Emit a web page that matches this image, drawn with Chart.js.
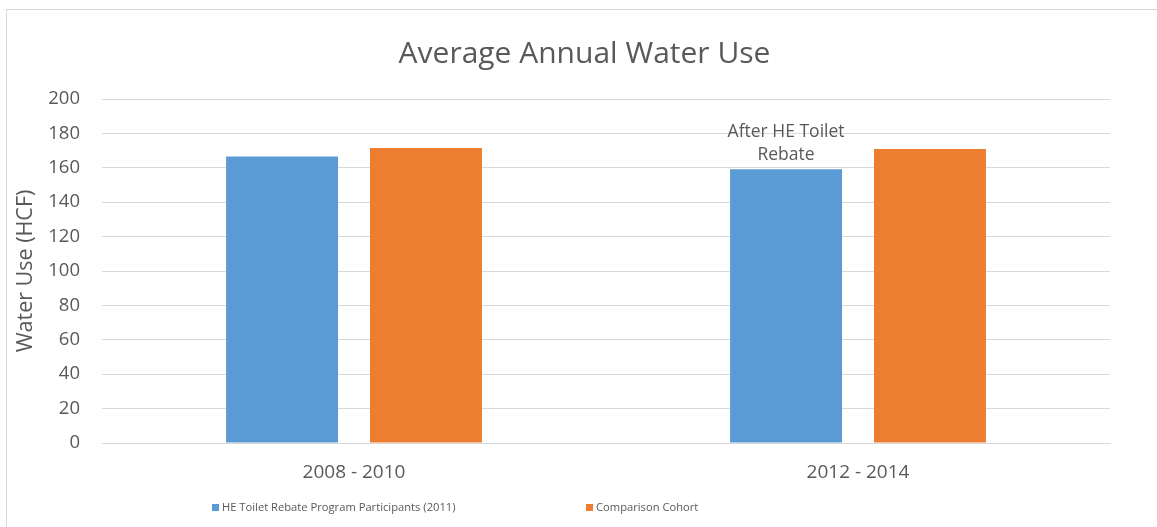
<!DOCTYPE html>
<html>
<head>
<meta charset="utf-8">
<script src="https://cdn.jsdelivr.net/npm/chart.js@4"></script>
<style>
  html, body { margin: 0; padding: 0; background: #fff; }
  #wrap { position: relative; width: 1157px; height: 527px; overflow: hidden; background: #fff; }
  #frame { position: absolute; left: 6px; top: 9px; width: 1300px; height: 700px; border-top: 1px solid #d9d9d9; border-left: 1px solid #d9d9d9; pointer-events: none; }
  canvas { position: absolute; left: 0; top: 0; }
  .leg { position: absolute; top: 499px; font-family: 'Open Sans', sans-serif; font-size: 11.2px; color: #595959; white-space: nowrap; line-height: 16px; }
  .leg span.box { display: inline-block; width: 7px; height: 7px; margin-right: 3px; vertical-align: 0px; }
</style>
</head>
<body>
<div id="wrap">
  <canvas id="c" width="1157" height="527"></canvas>
  <div id="frame"></div>
  <div class="leg" id="leg0" style="left:212px"></div>
  <div class="leg" id="leg1" style="left:586px"></div>
</div>
<script>
const chartTitle = 'Average Annual Water Use';
const yAxisTitle = 'Water Use (HCF)';
const categories = ['2008 - 2010', '2012 - 2014'];
const seriesNames = ['HE Toilet Rebate Program Participants (2011)', 'Comparison Cohort'];
const participants = [166.6, 159.2];
const cohort = [171.5, 170.9];
const seriesColors = ['#5b9bd5', '#ed7d31'];
const participantNotes = [[], ['After HE Toilet', 'Rebate']];
const yMin = 0, yMax = 200, yStep = 20;

Chart.defaults.font.family = "'Open Sans', sans-serif";
Chart.defaults.color = '#595959';

const noteLabels = {
  id: 'noteLabels',
  afterDatasetsDraw(chart) {
    const meta = chart.getDatasetMeta(0);
    const ctx = chart.ctx;
    ctx.save();
    ctx.font = "17.5px 'Open Sans', sans-serif";
    ctx.fillStyle = '#595959';
    ctx.textAlign = 'center';
    ctx.textBaseline = 'alphabetic';
    participantNotes.forEach((lines, i) => {
      if (!lines.length) return;
      const el = meta.data[i];
      const lh = 23;
      lines.forEach((t, k) => {
        const y = el.y - 9 - (lines.length - 1 - k) * lh;
        ctx.fillText(t, el.x, y);
      });
    });
    ctx.restore();
  }
};

const chart = new Chart(document.getElementById('c'), {
  type: 'bar',
  data: {
    labels: categories,
    datasets: [
      { label: seriesNames[0], data: participants, backgroundColor: seriesColors[0], categoryPercentage: 0.571, barPercentage: 0.778 },
      { label: seriesNames[1], data: cohort, backgroundColor: seriesColors[1], categoryPercentage: 0.571, barPercentage: 0.778 }
    ]
  },
  options: {
    responsive: false,
    animation: false,
    layout: { padding: { left: 12, right: 0, top: 0, bottom: 0 } },
    plugins: {
      legend: { display: false },
      tooltip: { enabled: false },
      title: {
        display: true,
        text: chartTitle,
        color: '#595959',
        font: { size: 30, weight: 'normal' },
        padding: { top: 36, bottom: 27 }
      }
    },
    scales: {
      x: {
        grid: { display: false, drawTicks: false },
        border: { display: true, color: '#d9d9d9' },
        ticks: { color: '#595959', font: { size: 19 }, padding: 18 },
        afterFit(s) { s.height = 84; }
      },
      y: {
        min: yMin, max: yMax,
        grid: { color: '#d9d9d9', drawTicks: false },
        border: { display: false },
        ticks: { stepSize: yStep, color: '#595959', font: { size: 18.5 }, padding: 22 },
        title: { display: true, text: yAxisTitle, color: '#595959', font: { size: 21.5, lineHeight: 0.5 }, padding: { top: 8, bottom: 0 } },
        afterFit(s) { s.width = 90; }
      },
      spacer: {
        type: 'linear',
        position: 'right',
        display: true,
        grid: { display: false, drawTicks: false },
        border: { display: false },
        ticks: { display: false },
        afterFit(s) { s.width = 47; }
      }
    }
  },
  plugins: [noteLabels]
});

seriesNames.forEach((n, i) => {
  const d = document.getElementById('leg' + i);
  const b = document.createElement('span');
  b.className = 'box';
  b.style.background = seriesColors[i];
  d.appendChild(b);
  d.appendChild(document.createTextNode(n));
});
</script>
</body>
</html>
